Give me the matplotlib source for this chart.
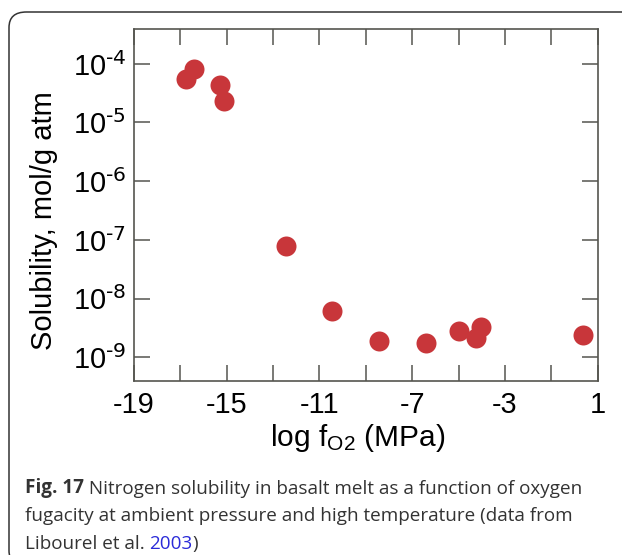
import matplotlib
matplotlib.use("Agg")
import matplotlib.pyplot as plt
from matplotlib.patches import FancyBboxPatch
from matplotlib.ticker import LogLocator, FuncFormatter, NullLocator

# data (Libourel et al. 2003)
log_fo2 = [-16.75, -16.40, -15.28, -15.12, -12.44, -10.47, -8.41, -6.40, -4.98, -4.04, -4.25, 0.35]
solubility = [5.5e-5, 8.1e-5, 4.4e-5, 2.3e-5, 7.8e-8, 6.2e-9, 1.9e-9, 1.73e-9, 2.85e-9, 3.24e-9, 2.1e-9, 2.35e-9]
x_labels = [-19, -15, -11, -7, -3, 1]

plt.rcParams['font.family'] = ['Liberation Sans', 'DejaVu Sans']
plt.rcParams['mathtext.default'] = 'regular'

fig = plt.figure(figsize=(6.22, 5.55), dpi=100)
ax = fig.add_axes([0.215, 0.314, 0.746, 0.6346])

spine_col = '#55554f'
ax.plot(log_fo2, solubility, 'o', color='#c8363a', markersize=14.4, markeredgewidth=0)

ax.set_yscale('log')
ax.set_xlim(-19, 1)
ax.set_ylim(10 ** -9.4, 10 ** -3.4)

xt = list(range(-19, 2, 2))
ax.set_xticks(xt)
ax.set_xticklabels([str(v) if v in x_labels else '' for v in xt])
ax.yaxis.set_major_locator(LogLocator(base=10, numticks=10))
ax.yaxis.set_major_formatter(FuncFormatter(
    lambda v, p: r'10$^{\text{-%d}}$' % round(-__import__('math').log10(v))))
ax.yaxis.set_minor_locator(NullLocator())

ax.tick_params(axis='both', which='major', direction='in', length=11.5, width=1.1,
               color=spine_col, labelsize=20.8, top=True, right=True)
ax.tick_params(axis='x', pad=7.5)
ax.tick_params(axis='y', pad=5.5)
for s in ax.spines.values():
    s.set_color(spine_col)
    s.set_linewidth(1.2)

ax.set_ylabel('Solubility, mol/g atm', fontsize=21)
ax.yaxis.set_label_coords(-0.163, 0.456)
ax.set_xlabel('log f$_{O2}$ (MPa)', fontsize=21.5)
ax.xaxis.set_label_coords(0.482, -0.118)

# caption box
box = FancyBboxPatch((9 / 622, -0.02), 700 / 622, (555 - 12) / 555 + 0.02,
                     boxstyle='round,pad=0,rounding_size=0.028', transform=fig.transFigure,
                     facecolor='none', edgecolor='#333333', linewidth=1.1, clip_on=False)
fig.patches.append(box)

cap_font = ['Open Sans', 'DejaVu Sans']
cap_col = '#333333'
cap_size = 13.6
x0 = 25 / 622
t1 = fig.text(x0, 1 - 488 / 555, 'Fig. 17', fontsize=cap_size, fontweight='bold',
              family=cap_font, color=cap_col, va='center')
ax.annotate(' Nitrogen solubility in basalt melt as a function of oxygen', xy=(1, 0),
            xycoords=t1, va='bottom', ha='left', fontsize=cap_size, family=cap_font,
            color=cap_col, annotation_clip=False)
fig.text(x0, 1 - 516 / 555, 'fugacity at ambient pressure and high temperature (data from',
         fontsize=cap_size, family=cap_font, color=cap_col, va='center')
t3 = fig.text(x0, 1 - 544 / 555, 'Libourel et al. ', fontsize=cap_size, family=cap_font,
              color=cap_col, va='center')
t4 = ax.annotate('2003', xy=(1, 0), xycoords=t3, va='bottom', ha='left', fontsize=cap_size,
                 family=cap_font, color='#2a2ad8', annotation_clip=False)
ax.annotate(')', xy=(1, 0), xycoords=t4, va='bottom', ha='left', fontsize=cap_size,
            family=cap_font, color=cap_col, annotation_clip=False)

fig.savefig('out.png', dpi=100)
